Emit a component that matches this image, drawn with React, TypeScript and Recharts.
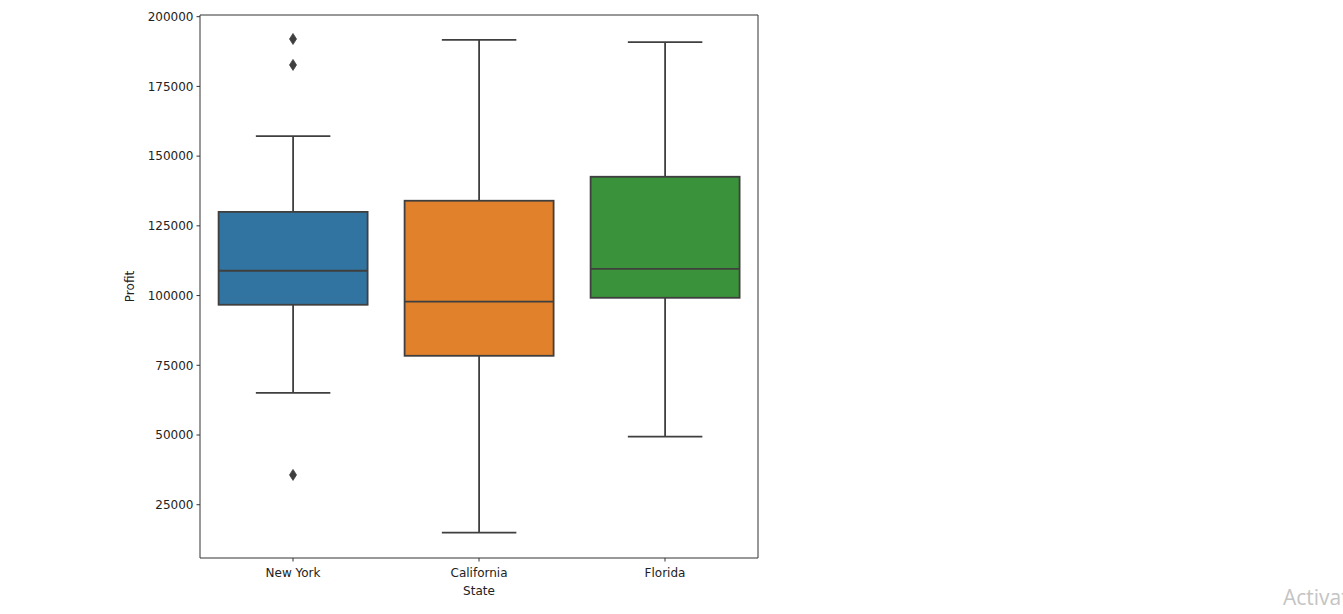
import React from 'react';
import { ComposedChart, Bar, Scatter, XAxis, YAxis } from 'recharts';

// seaborn-style boxplot: Profit by State
const states = ['New York', 'California', 'Florida'];
const whiskerLow = [65100, 15000, 49400];
const q1 = [96700, 78400, 99200];
const median = [108900, 97800, 109600];
const q3 = [130000, 134000, 142600];
const whiskerHigh = [157200, 191700, 190900];
const boxColors = ['#3274a1', '#e1812c', '#3a923a'];

const outlierStates = ['New York', 'New York', 'New York'];
const outlierValues = [192000, 182700, 35700];

const profitTicks = [25000, 50000, 75000, 100000, 125000, 150000, 175000, 200000];
const profitDomain = [5900, 200600];

const LINE = '#3f3f3f';
const SPINE = '#333333';
const FONT = 'DejaVu Sans, sans-serif';

const boxData = states.map((state, i) => {
  const row: any = {
    state,
    low: whiskerLow[i],
    q1: q1[i],
    median: median[i],
    q3: q3[i],
    high: whiskerHigh[i],
    color: boxColors[i],
  };
  outlierStates.forEach((s, k) => {
    row[`out${k}`] = s === state ? outlierValues[k] : null;
  });
  return row;
});

const BoxShape = (props: any) => {
  const { x, y, width, height, payload } = props;
  const top = Math.min(y, y + height);
  const h = Math.abs(height);
  const { low, high } = payload;
  const toY = (v: number) => top + ((high - v) / (high - low)) * h;
  const cx = x + width / 2;
  const capHalf = width / 4;
  const yQ1 = toY(payload.q1);
  const yQ3 = toY(payload.q3);
  const yMed = toY(payload.median);
  const yLow = toY(low);
  const yHigh = toY(high);
  return (
    <g>
      <line x1={cx} x2={cx} y1={yHigh} y2={yQ3} stroke={LINE} strokeWidth={1.8} />
      <line x1={cx} x2={cx} y1={yQ1} y2={yLow} stroke={LINE} strokeWidth={1.8} />
      <line x1={cx - capHalf} x2={cx + capHalf} y1={yHigh} y2={yHigh} stroke={LINE} strokeWidth={1.8} />
      <line x1={cx - capHalf} x2={cx + capHalf} y1={yLow} y2={yLow} stroke={LINE} strokeWidth={1.8} />
      <rect x={x} y={yQ3} width={width} height={yQ1 - yQ3} fill={payload.color} stroke={LINE} strokeWidth={1.8} />
      <line x1={x} x2={x + width} y1={yMed} y2={yMed} stroke={LINE} strokeWidth={1.8} />
    </g>
  );
};

const Diamond = (props: any) => {
  const { cx, cy, payload, field } = props;
  if (!payload || payload[field] == null || !isFinite(cx) || !isFinite(cy)) return null;
  return (
    <path
      d={`M${cx},${cy - 5.5} L${cx + 3.5},${cy} L${cx},${cy + 5.5} L${cx - 3.5},${cy} Z`}
      fill={LINE}
      stroke={LINE}
      strokeWidth={0.8}
    />
  );
};

const YTitle = (props: any) => {
  const { viewBox } = props;
  const cx = 134;
  const cy = viewBox.y + viewBox.height / 2;
  return (
    <text x={cx} y={cy} transform={`rotate(-90, ${cx}, ${cy})`} textAnchor="middle" fontSize={12} fontFamily={FONT} fill="#222">
      Profit
    </text>
  );
};

const XTitle = (props: any) => {
  const { viewBox } = props;
  const cx = viewBox.x + viewBox.width / 2;
  return (
    <text x={cx} y={595} textAnchor="middle" fontSize={12} fontFamily={FONT} fill="#222">
      State
    </text>
  );
};

export default function App() {
  const tickStyle = { fontSize: 12, fontFamily: FONT, fill: '#222' };
  return (
    <div style={{ position: 'absolute', left: 0, top: 0, width: 1343, height: 614, overflow: 'hidden', background: '#fff' }}>
      <ComposedChart
        width={1343}
        height={614}
        data={boxData}
        margin={{ top: 14, right: 584, bottom: 16, left: 110 }}
        barCategoryGap="10%"
      >
        <XAxis
          dataKey="state"
          type="category"
          height={40}
          tick={tickStyle}
          tickSize={3.5}
          tickMargin={7}
          stroke={SPINE}
          tickLine={{ stroke: SPINE }}
          axisLine={{ stroke: SPINE }}
          label={<XTitle />}
        />
        <XAxis xAxisId="top" dataKey="state" type="category" orientation="top" height={1} tick={false} tickLine={false} axisLine={{ stroke: SPINE }} />
        <YAxis
          type="number"
          domain={profitDomain}
          ticks={profitTicks}
          allowDataOverflow
          width={90}
          tick={tickStyle}
          tickSize={3.5}
          tickMargin={3}
          stroke={SPINE}
          tickLine={{ stroke: SPINE }}
          axisLine={{ stroke: SPINE }}
          label={<YTitle />}
        />
        <YAxis yAxisId="right" orientation="right" type="number" domain={profitDomain} allowDataOverflow width={1} tick={false} tickLine={false} axisLine={{ stroke: SPINE }} />
        <Bar
          dataKey={(d: any) => [d.low, d.high]}
          shape={<BoxShape />}
          isAnimationActive={false}
        />
        {outlierValues.map((_, k) => (
          <Scatter
            key={k}
            dataKey={`out${k}`}
            xAxisId="top"
            yAxisId="right"
            fill={LINE}
            shape={<Diamond field={`out${k}`} />}
            isAnimationActive={false}
          />
        ))}
      </ComposedChart>
      <div
        style={{
          position: 'absolute',
          left: 1283,
          top: 583,
          fontFamily: 'Open Sans, sans-serif',
          fontSize: 21,
          color: '#c4c4c4',
          whiteSpace: 'nowrap',
        }}
      >
        Activate Windows
      </div>
    </div>
  );
}
